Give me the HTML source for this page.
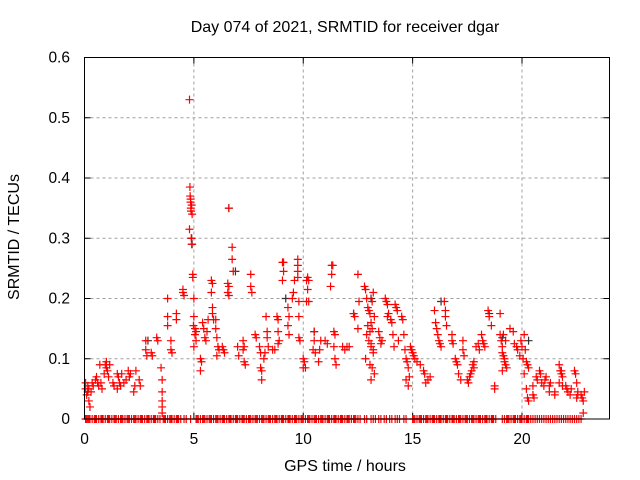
<!DOCTYPE html>
<html><head><meta charset="utf-8"><style>
html,body{margin:0;padding:0;background:#fff;}
svg{display:block;font-family:"Liberation Sans",sans-serif;}
</style></head><body>
<svg id="chart" width="640" height="480" viewBox="0 0 640 480" xmlns="http://www.w3.org/2000/svg">
<rect width="640" height="480" fill="#fff"/>
<text x="345" y="32" font-size="16" text-anchor="middle" fill="#000">Day 074 of 2021, SRMTID for receiver dgar</text>
<text x="345" y="471" font-size="16" text-anchor="middle" fill="#000">GPS time / hours</text>
<text x="0" y="0" font-size="16" text-anchor="middle" fill="#000" transform="translate(19,237) rotate(-90)">SRMTID / TECUs</text>
<g id="grid"></g><g id="ticks"></g><g id="marks"></g>
<rect x="84.5" y="57.5" width="525" height="361.5" fill="none" stroke="#000" stroke-width="1"/>
</svg>
<script>
const xTicks=[0,5,10,15,20];
const yTicks=[0,0.1,0.2,0.3,0.4,0.5,0.6];
const yTickLabels=["0","0.1","0.2","0.3","0.4","0.5","0.6"];
const redX=[0.05,0.05,0.1,0.15,0.2,0.2,0.25,0.3,0.35,0.4,0.5,0.55,0.6,0.65,0.7,0.75,0.8,0.9,0.95,1.0,1.0,1.05,1.1,1.15,
1.3,1.35,1.5,1.55,1.5,1.6,1.65,1.7,1.8,1.9,2.0,2.05,2.1,2.25,2.3,2.35,2.5,2.55,
2.8,2.8,2.85,3.05,3.1,3.3,3.35,3.5,3.55,3.55,3.55,3.55,3.55,
3.8,3.8,3.8,3.95,3.95,4.0,4.2,4.2,4.5,4.5,4.55,
4.8,4.82,4.83,4.85,4.85,4.86,4.87,4.9,4.92,4.8,4.88,4.9,4.95,4.95,5.0,5.0,4.98,5.05,5.1,5.05,5.0,5.1,
5.3,5.35,5.3,5.4,5.45,5.5,5.55,5.6,5.65,5.8,5.85,5.8,5.85,5.85,5.9,6.0,6.0,6.05,6.1,6.15,6.05,6.3,6.35,6.4,
6.55,6.6,6.55,6.6,6.6,6.75,6.75,6.8,7.0,7.05,7.25,7.25,7.3,7.3,7.35,7.6,7.6,7.65,
7.8,7.85,8.0,8.05,8.05,8.1,8.1,8.2,8.25,8.3,8.35,8.35,8.4,8.6,8.7,8.8,8.85,8.85,8.9,8.85,9.05,9.1,9.1,9.05,9.3,9.35,9.3,9.35,9.5,9.55,9.6,9.75,9.75,9.75,9.75,9.8,9.8,9.8,9.85,
10.0,10.05,10.0,10.1,10.15,10.2,10.25,10.2,10.15,10.25,10.5,10.5,10.45,10.55,10.7,10.75,10.8,11.0,11.1,11.3,11.35,11.3,11.25,11.4,11.45,11.4,11.45,11.5,
11.8,11.9,12.0,12.1,12.3,12.35,12.5,12.55,12.5,
12.8,12.85,12.9,12.95,13.0,13.05,13.1,13.15,12.9,13.0,13.1,13.2,12.85,13.05,13.15,13.25,13.1,13.2,13.15,13.25,12.95,13.05,13.2,13.1,
13.45,13.5,13.55,13.6,13.75,13.8,13.85,13.9,13.85,14.0,14.05,14.1,14.15,14.2,14.25,14.3,14.35,
14.5,14.55,14.6,14.65,14.7,14.75,14.8,14.85,14.7,14.8,14.9,14.95,15.0,15.05,15.1,15.2,15.35,15.5,15.55,15.6,15.7,15.8,
16.0,16.05,16.1,16.15,16.2,16.25,16.3,16.45,16.5,16.5,16.55,16.8,16.8,16.85,16.95,17.0,17.05,17.1,17.2,17.3,17.3,17.35,
17.5,17.55,17.6,17.65,17.7,17.75,17.8,17.8,17.9,18.0,18.05,18.15,18.2,18.25,18.3,18.45,18.5,18.6,18.75,18.75,
19.0,19.0,19.05,19.1,19.1,19.15,19.2,19.2,19.25,19.3,19.1,19.15,19.25,19.45,19.6,19.65,19.75,19.8,19.9,
19.95,20.0,20.05,20.1,20.15,20.2,20.25,20.3,20.1,20.2,20.25,20.3,20.5,20.5,20.55,
20.65,20.7,20.8,20.85,20.9,21.0,21.05,21.1,21.25,21.25,21.3,21.5,21.5,21.7,21.75,21.8,21.8,21.85,21.7,21.85,
22.0,22.05,22.1,22.2,22.25,22.4,22.45,22.5,22.55,22.55,22.5,22.7,22.75,22.8,22.85,22.8];
const redY=[0.06,0.05,0.04,0.055,0.05,0.03,0.02,0.045,0.06,0.055,0.065,0.07,0.06,0.055,0.09,0.06,0.05,0.075,0.09,0.095,0.085,0.08,0.07,0.09,
0.06,0.055,0.075,0.07,0.05,0.06,0.055,0.075,0.06,0.065,0.08,0.07,0.075,0.045,0.055,0.08,0.065,0.055,
0.13,0.115,0.105,0.11,0.105,0.135,0.13,0.085,0.065,0.045,0.03,0.02,0.01,
0.2,0.17,0.155,0.13,0.115,0.11,0.175,0.165,0.215,0.21,0.205,
0.53,0.385,0.37,0.365,0.36,0.35,0.345,0.355,0.34,0.315,0.3,0.29,0.24,0.235,0.2,0.17,0.155,0.15,0.145,0.14,0.12,0.13,
0.1,0.095,0.08,0.16,0.15,0.135,0.13,0.145,0.165,0.23,0.225,0.21,0.185,0.175,0.165,0.165,0.15,0.135,0.12,0.115,0.105,0.12,0.115,0.11,
0.225,0.22,0.21,0.205,0.35,0.285,0.265,0.245,0.12,0.105,0.13,0.115,0.12,0.095,0.09,0.24,0.22,0.21,
0.14,0.135,0.12,0.11,0.085,0.08,0.065,0.1,0.11,0.17,0.145,0.135,0.12,0.115,0.115,0.17,0.165,0.145,0.13,0.125,0.26,0.26,0.245,0.23,0.185,0.17,0.155,0.14,0.2,0.21,0.23,0.265,0.255,0.245,0.235,0.195,0.17,0.135,0.13,
0.1,0.095,0.085,0.085,0.23,0.235,0.23,0.215,0.195,0.195,0.145,0.13,0.115,0.11,0.095,0.115,0.13,0.13,0.125,0.255,0.255,0.24,0.22,0.145,0.14,0.12,0.1,0.09,
0.12,0.115,0.12,0.12,0.175,0.17,0.24,0.195,0.15,
0.22,0.215,0.2,0.185,0.18,0.175,0.16,0.15,0.14,0.13,0.12,0.115,0.1,0.09,0.085,0.075,0.065,0.21,0.195,0.17,0.155,0.145,0.11,0.125,
0.145,0.135,0.125,0.13,0.2,0.195,0.19,0.175,0.17,0.165,0.16,0.14,0.12,0.19,0.185,0.18,0.13,
0.17,0.165,0.14,0.115,0.1,0.095,0.085,0.07,0.065,0.055,0.12,0.115,0.11,0.105,0.1,0.095,0.09,0.08,0.075,0.06,0.065,0.07,
0.18,0.16,0.15,0.14,0.13,0.125,0.12,0.195,0.18,0.17,0.155,0.14,0.13,0.125,0.1,0.095,0.09,0.075,0.065,0.13,0.115,0.105,
0.065,0.06,0.07,0.075,0.08,0.09,0.095,0.085,0.12,0.125,0.115,0.14,0.13,0.125,0.12,0.18,0.17,0.155,0.055,0.05,
0.175,0.14,0.13,0.12,0.11,0.105,0.1,0.095,0.09,0.085,0.08,0.14,0.13,0.15,0.145,0.125,0.12,0.115,0.105,
0.13,0.12,0.1,0.14,0.115,0.095,0.09,0.085,0.075,0.05,0.035,0.03,0.055,0.04,0.035,
0.07,0.065,0.08,0.075,0.06,0.055,0.065,0.07,0.055,0.045,0.06,0.045,0.04,0.09,0.08,0.08,0.075,0.07,0.06,0.055,
0.055,0.05,0.045,0.04,0.05,0.08,0.075,0.06,0.045,0.04,0.035,0.04,0.035,0.03,0.045,0.01];
const blackX=[0.15,2.9,4.9,4.92,6.6,6.9,9.2,10.5,13.1,16.3,18.5,19.1,20.3,12.3];
const blackY=[0.045,0.13,0.3,0.29,0.35,0.245,0.2,0.145,0.2,0.195,0.175,0.135,0.13,0.175];
const zeroX=[0.05,0.1,0.15,0.2,0.25,0.35,0.45,0.5,0.55,0.65,0.75,0.8,0.85,0.95,1.05,1.1,1.15,1.25,1.35,1.4,1.45,1.55,1.65,1.7,1.75,1.85,1.95,2.0,2.05,2.15,2.25,2.3,2.35,2.45,2.55,2.6,2.65,2.75,2.85,2.9,2.95,3.05,3.15,3.2,3.25,3.35,3.45,3.6,3.65,3.7,3.8,3.9,3.95,4.0,4.1,4.2,4.25,4.3,4.4,4.55,4.65,4.85,5.1,5.15,5.2,5.3,5.4,5.45,5.5,5.6,5.7,5.75,5.8,5.9,6.0,6.05,6.1,6.2,6.3,6.35,6.4,6.5,6.6,6.65,6.7,6.8,6.9,6.95,7.0,7.1,7.2,7.25,7.3,7.4,7.5,7.55,7.6,7.7,7.8,7.85,7.9,8.0,8.1,8.15,8.2,8.3,8.4,8.45,8.5,8.6,8.7,8.75,8.8,8.9,9.0,9.05,9.1,9.2,9.3,9.35,9.4,9.5,9.6,9.65,9.7,9.8,9.9,9.95,10.0,10.1,10.2,10.25,10.3,10.4,10.5,10.55,10.6,10.7,10.8,10.85,10.9,11.0,11.1,11.15,11.2,11.3,11.4,11.45,11.5,11.6,11.7,11.75,11.8,11.9,12.0,12.05,12.1,12.2,12.3,12.35,12.4,12.5,12.6,12.8,12.9,13.1,13.2,13.3,13.45,13.55,13.7,13.8,13.95,14.05,14.2,14.3,14.4,14.6,14.7,15.0,15.05,15.1,15.2,15.3,15.35,15.4,15.5,15.6,15.65,15.7,15.8,15.9,15.95,16.0,16.1,16.2,16.25,16.3,16.4,16.5,16.55,16.6,16.7,16.8,16.85,16.9,17.0,17.1,17.15,17.2,17.3,17.4,17.45,17.5,17.6,17.7,17.75,17.8,17.9,18.0,18.05,18.1,18.2,18.3,18.35,18.4,18.5,18.6,18.65,18.7,18.8,19.1,19.2,19.3,19.35,19.4,19.5,19.6,19.65,19.7,19.8,19.9,19.95,20.0,20.1,20.2,20.25,20.3,20.4,20.5,20.6,20.7,20.8,20.9,21.0,21.1,21.2,21.3,21.4,21.5,21.6,21.7,21.8,21.9,22.0,22.1,22.2,22.3,22.4,22.5,22.6,22.7];
const NS="http://www.w3.org/2000/svg";
const X0=84.5,X1=609.5,Y0=419,Y1=57.5,XMAX=24,YMAX=0.6;
function sx(v){return X0+(X1-X0)*v/XMAX;}
function sy(v){return Y0-(Y0-Y1)*v/YMAX;}
function mk(tag,attrs,parent){const e=document.createElementNS(NS,tag);for(const k in attrs)e.setAttribute(k,attrs[k]);parent.appendChild(e);return e;}
const grid=document.getElementById('grid'),ticks=document.getElementById('ticks'),marks=document.getElementById('marks');
xTicks.forEach(t=>{
  const x=sx(t);
  if(t>0){const g=mk('line',{x1:x,x2:x,y1:Y1,y2:Y0,stroke:'#a0a0a0','stroke-dasharray':'3,3'},grid);
  
  }
  mk('line',{x1:x,x2:x,y1:Y0,y2:Y0-6,stroke:'#000'},ticks);
  mk('line',{x1:x,x2:x,y1:Y1,y2:Y1+6,stroke:'#000'},ticks);
  const l=mk('text',{x:x,y:444,'font-size':'15.5','text-anchor':'middle',fill:'#000'},ticks);
  l.textContent=String(t);
  
  
});
yTicks.forEach((t,i)=>{
  const y=sy(t);
  if(t>0&&t<0.6){const g=mk('line',{x1:X0,x2:X1,y1:y,y2:y,stroke:'#a0a0a0','stroke-dasharray':'3,3'},grid);
  
  }
  mk('line',{x1:X0,x2:X0+6,y1:y,y2:y,stroke:'#000'},ticks);
  mk('line',{x1:X1,x2:X1-6,y1:y,y2:y,stroke:'#000'},ticks);
  const l=mk('text',{x:70,y:y+5,'font-size':'15.5','text-anchor':'end',fill:'#000'},ticks);
  l.textContent=yTickLabels[i];
  
  
});
function plus(x,y,color,name){
  const px=sx(x),py=sy(y);
  const p=mk('path',{d:`M${px-4} ${py}H${px+4}M${px} ${py-4}V${py+4}`,stroke:color,'stroke-width':'1.2',fill:'none'},marks);
  
  
}
blackX.forEach((x,i)=>plus(x,blackY[i],'#333','point-black'));
zeroX.forEach(x=>plus(x,0,'#ff0000','point-zero'));
redX.forEach((x,i)=>plus(x,redY[i],'#ff0000','point-srmtid'));
</script>
</body></html>
